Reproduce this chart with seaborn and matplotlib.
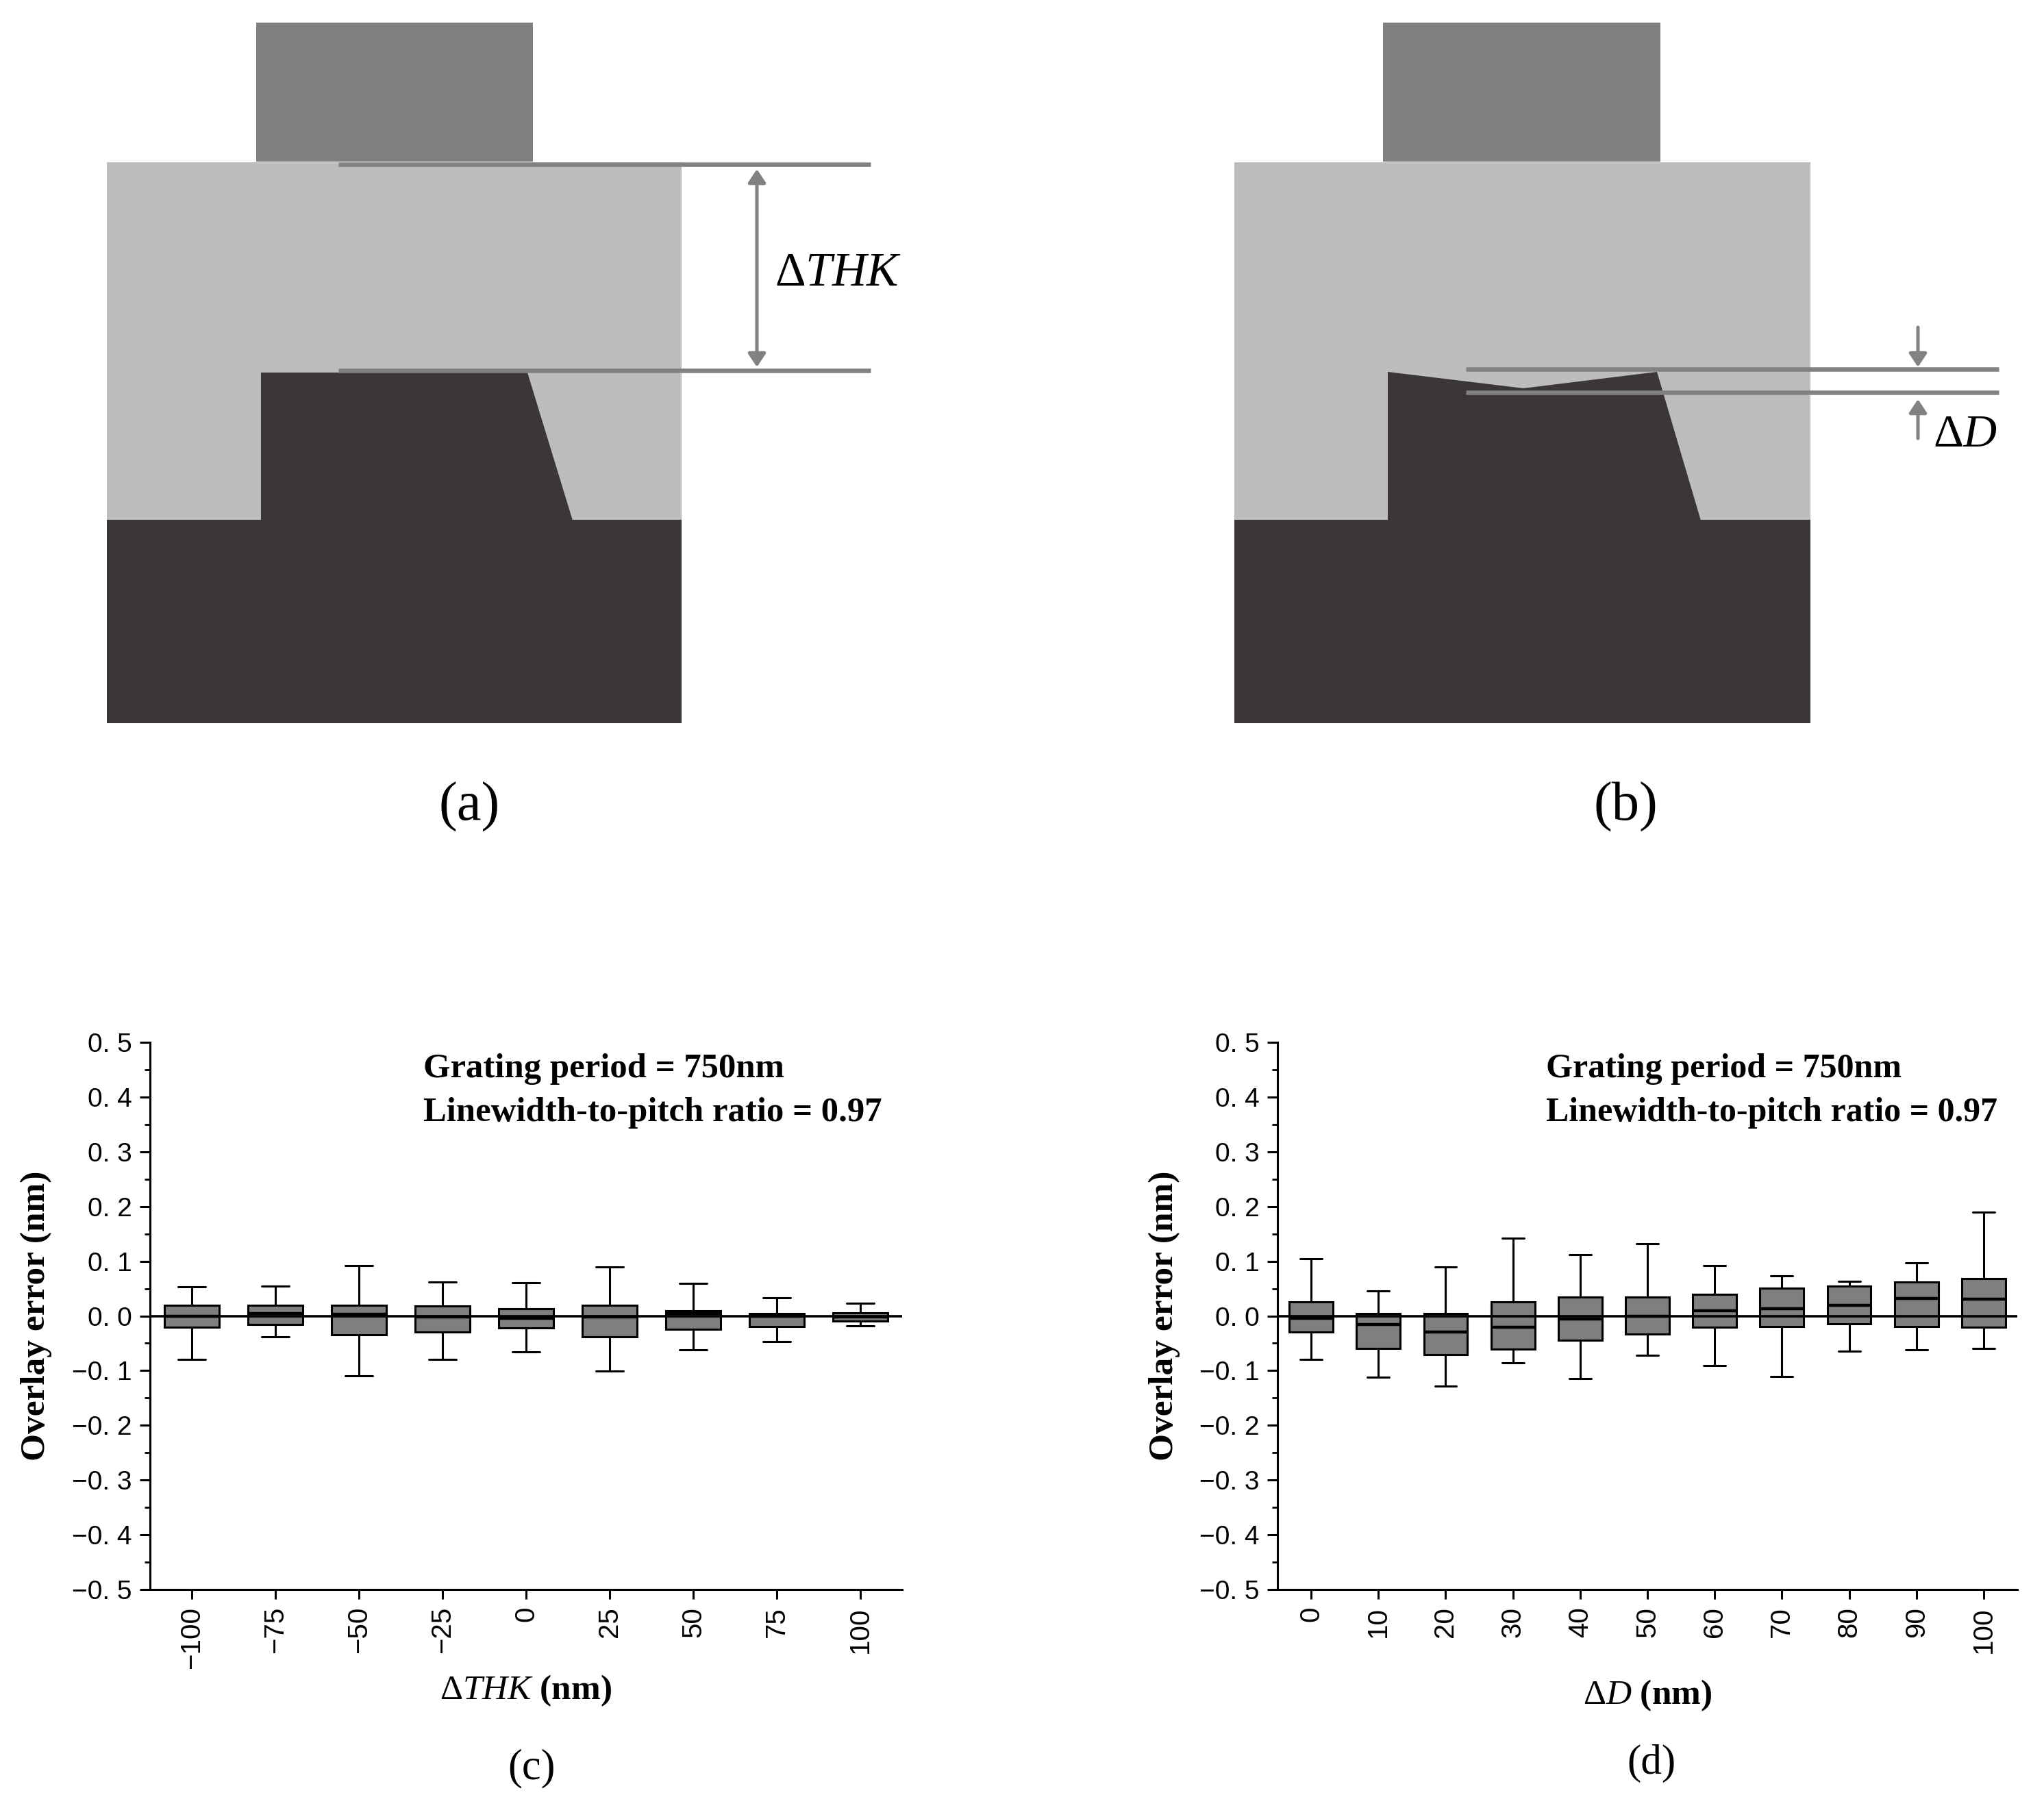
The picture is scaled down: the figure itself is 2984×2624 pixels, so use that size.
import numpy as np
import pandas as pd
import matplotlib
matplotlib.use('Agg')
import matplotlib.pyplot as plt
from matplotlib.patches import Polygon, Rectangle
from matplotlib.ticker import MultipleLocator
import seaborn as sns

# box plot values (c) and (d)
thk_labels = ['\u2212100', '\u221275', '\u221250', '\u221225', '0', '25', '50', '75', '100']
thk_low = [-0.080, -0.038, -0.110, -0.080, -0.066, -0.101, -0.062, -0.047, -0.018]
thk_q1 = [-0.021, -0.016, -0.035, -0.030, -0.022, -0.038, -0.024, -0.019, -0.009]
thk_med = [0.000, 0.005, 0.003, -0.002, -0.005, -0.002, 0.004, -0.001, -0.002]
thk_q3 = [0.020, 0.019, 0.019, 0.018, 0.013, 0.020, 0.010, 0.005, 0.006]
thk_high = [0.053, 0.055, 0.092, 0.062, 0.061, 0.090, 0.059, 0.033, 0.023]

d_labels = ['0', '10', '20', '30', '40', '50', '60', '70', '80', '90', '100']
d_low = [-0.080, -0.112, -0.128, -0.086, -0.115, -0.072, -0.091, -0.111, -0.064, -0.062, -0.060]
d_q1 = [-0.030, -0.060, -0.071, -0.061, -0.044, -0.033, -0.021, -0.019, -0.014, -0.020, -0.021]
d_med = [-0.004, -0.016, -0.030, -0.021, -0.006, 0.000, 0.010, 0.013, 0.019, 0.032, 0.031]
d_q3 = [0.026, 0.004, 0.005, 0.026, 0.034, 0.034, 0.040, 0.051, 0.055, 0.062, 0.068]
d_high = [0.104, 0.046, 0.089, 0.142, 0.112, 0.132, 0.092, 0.073, 0.063, 0.097, 0.189]

y_ticks = [0.5, 0.4, 0.3, 0.2, 0.1, 0.0, -0.1, -0.2, -0.3, -0.4, -0.5]
y_labels = ['0. 5', '0. 4', '0. 3', '0. 2', '0. 1', '0. 0',
            '\u22120. 1', '\u22120. 2', '\u22120. 3', '\u22120. 4', '\u22120. 5']

W, H = 2984, 2624
GREY_TOP = '#808080'
GREY_FILL = '#bdbdbd'
DARK = '#3b3736'
LINE_GREY = '#828282'
PT = 72 / 100  # pixels to points at dpi 100

sns.set_theme(style='ticks')
plt.rcParams['font.family'] = ['Liberation Serif', 'DejaVu Serif']
plt.rcParams['mathtext.fontset'] = 'custom'
plt.rcParams['mathtext.rm'] = 'Liberation Serif'
plt.rcParams['mathtext.it'] = 'Liberation Serif:italic'
plt.rcParams['mathtext.bf'] = 'Liberation Serif:bold'
plt.rcParams['text.color'] = 'black'
plt.rcParams['axes.labelcolor'] = 'black'
plt.rcParams['xtick.color'] = 'black'
plt.rcParams['ytick.color'] = 'black'

fig = plt.figure(figsize=(W / 100, H / 100), dpi=100, facecolor='white')


def px_axes(left, top, right, bottom):
    return fig.add_axes([left / W, 1 - bottom / H, (right - left) / W, (bottom - top) / H])


def draw_box_panel(left, right, labels, low, q1, med, q3, high, xlabel, text_x, xlabel_y, ylabel_x, text_size):
    ax = px_axes(left, 1522, right, 2321)
    # five numbers per category, quartiles of them come back exactly
    frame = pd.DataFrame({
        'cat': np.repeat(labels, 5),
        'val': np.column_stack([low, q1, med, q3, high]).ravel(),
    })
    sns.boxplot(data=frame, x='cat', y='val', order=labels, ax=ax, whis=(0, 100),
                width=0.65, color='#7f7f7f', saturation=1, linecolor='black',
                linewidth=2.2, showfliers=False, gap=0,
                medianprops={'linewidth': 3.2})
    ax.axhline(0, color='black', lw=2.6, zorder=10)
    ax.set_ylim(-0.5, 0.5)
    ax.set_xlim(-0.5, len(labels) - 0.5)
    ax.set_yticks(y_ticks)
    ax.set_yticklabels(y_labels, fontfamily='Liberation Sans', fontsize=28)
    ax.yaxis.set_minor_locator(MultipleLocator(0.05))
    ax.tick_params(axis='y', which='major', length=11, width=2.2, pad=8)
    ax.tick_params(axis='y', which='minor', length=5.5, width=2.0)
    ax.tick_params(axis='x', length=10, width=2.2, pad=8)
    ax.set_xticks(range(len(labels)))
    ax.set_xticklabels(labels, rotation=90, fontfamily='Liberation Sans', fontsize=29)
    for side in ['top', 'right']:
        ax.spines[side].set_visible(False)
    for side in ['left', 'bottom']:
        ax.spines[side].set_linewidth(2.2)
        ax.spines[side].set_color('black')
    ax.set_xlabel('')
    ax.set_ylabel('Overlay error (nm)', fontweight='bold', fontsize=37)
    ax.yaxis.set_label_coords((ylabel_x - left) / (right - left), 0.5)
    fig.text(text_x / W, 1 - 1561 / H, 'Grating period = 750nm', fontweight='bold',
             fontsize=text_size, va='center')
    fig.text(text_x / W, 1 - 1625 / H, 'Linewidth-to-pitch ratio = 0.97', fontweight='bold',
             fontsize=text_size, va='center')
    fig.text((left + right) / 2 / W, 1 - xlabel_y / H, xlabel, fontsize=37,
             ha='center', va='center')


# schematic panels share one overlay axes in pixel coordinates
sch = fig.add_axes([0, 0, 1, 1], zorder=-1)
sch.set_xlim(0, W)
sch.set_ylim(H, 0)
sch.axis('off')


def hline(x0, x1, y):
    sch.plot([x0, x1], [y, y], color=LINE_GREY, lw=6.5 * PT, solid_capstyle='butt', zorder=5)


def arrow(x, y_from, y_to, style):
    sch.annotate('', xy=(x, y_to), xytext=(x, y_from), zorder=6,
                 arrowprops=dict(arrowstyle=style, color=LINE_GREY, lw=5 * PT,
                                 shrinkA=0, shrinkB=0, mutation_scale=26))


# panel (a)
sch.add_patch(Rectangle((374, 33), 404, 203, color=GREY_TOP, lw=0))
sch.add_patch(Rectangle((156, 237), 839, 522, color=GREY_FILL, lw=0))
sch.add_patch(Rectangle((156, 759), 839, 297, color=DARK, lw=0))
sch.add_patch(Polygon([(381, 544), (770, 544), (836, 760), (381, 760)], color=DARK, lw=0))
hline(494, 1271, 240)
hline(494, 1271, 541)
arrow(1105, 247, 536, '<|-|>,head_length=0.45,head_width=0.3')
sch.text(1131, 400, '\u0394$\\mathit{THK}$', fontsize=50, va='center', ha='left')
sch.text(685, 1178, '(a)', fontsize=58, ha='center', va='center')

# panel (b)
sch.add_patch(Rectangle((2019, 33), 405, 203, color=GREY_TOP, lw=0))
sch.add_patch(Rectangle((1802, 237), 841, 522, color=GREY_FILL, lw=0))
sch.add_patch(Rectangle((1802, 759), 841, 297, color=DARK, lw=0))
sch.add_patch(Polygon([(2026, 543), (2224, 567), (2419, 543), (2483, 760), (2026, 760)], color=DARK, lw=0))
hline(2140, 2918, 539)
hline(2140, 2918, 573)
arrow(2800, 478, 536, '-|>,head_length=0.45,head_width=0.3')
arrow(2800, 640, 583, '-|>,head_length=0.45,head_width=0.3')
sch.text(2822, 636, '\u0394$\\mathit{D}$', fontsize=49, va='center', ha='left')
sch.text(2373, 1178, '(b)', fontsize=58, ha='center', va='center')

draw_box_panel(219, 1317, thk_labels, thk_low, thk_q1, thk_med, thk_q3, thk_high,
               '\u0394$\\mathit{THK}$ $\\mathbf{(nm)}$', 618, 2469, 76, 36.5)
draw_box_panel(1865, 2945, d_labels, d_low, d_q1, d_med, d_q3, d_high,
               '\u0394$\\mathit{D}$ $\\mathbf{(nm)}$', 2257, 2476, 1723, 36)
fig.text(776 / W, 1 - 2582 / H, '(c)', fontsize=45, ha='center', va='center')
fig.text(2411 / W, 1 - 2575 / H, '(d)', fontsize=44, ha='center', va='center')

fig.savefig('out.png', dpi=100, facecolor='white')
